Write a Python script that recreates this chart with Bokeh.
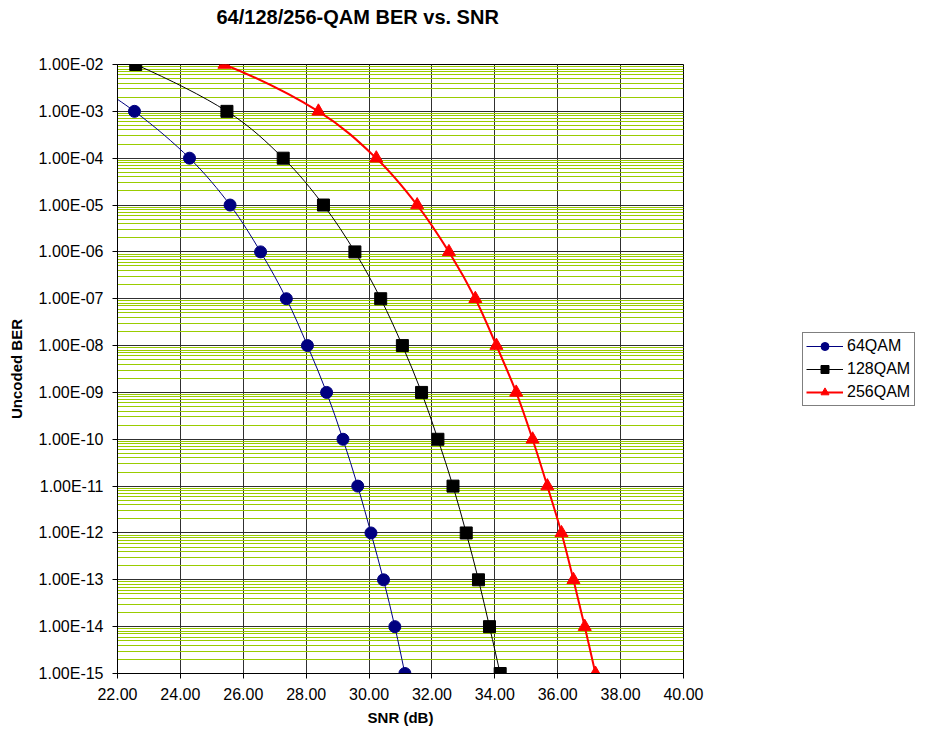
import numpy as np
from bokeh.plotting import figure
from bokeh.models import (ColumnDataSource, FixedTicker, SingleIntervalTicker, NumeralTickFormatter,
                          CustomJSTickFormatter, Legend, LegendItem, Range1d, Title, LinearAxis)
from bokeh.embed import file_html
from bokeh.resources import INLINE

# ---- data ----
snr_64 = [20.30, 22.54, 24.29, 25.58, 26.55, 27.37, 28.04, 28.65, 29.17, 29.64, 30.06, 30.46, 30.82, 31.14]
ber_64 = [1e-2, 1e-3, 1e-4, 1e-5, 1e-6, 1e-7, 1e-8, 1e-9, 1e-10, 1e-11, 1e-12, 1e-13, 1e-14, 1e-15]

snr_128 = [18.80, 22.58, 25.48, 27.27, 28.55, 29.55, 30.37, 31.06, 31.67, 32.19, 32.67, 33.09, 33.48, 33.83, 34.17]
ber_128 = [1e-1, 1e-2, 1e-3, 1e-4, 1e-5, 1e-6, 1e-7, 1e-8, 1e-9, 1e-10, 1e-11, 1e-12, 1e-13, 1e-14, 1e-15]

snr_256 = [21.00, 25.40, 28.39, 30.23, 31.53, 32.54, 33.38, 34.05, 34.68, 35.20, 35.67, 36.12, 36.50, 36.86, 37.20]
ber_256 = [1e-1, 1e-2, 1e-3, 1e-4, 1e-5, 1e-6, 1e-7, 1e-8, 1e-9, 1e-10, 1e-11, 1e-12, 1e-13, 1e-14, 1e-15]

series_names = ["64QAM", "128QAM", "256QAM"]
chart_title = "64/128/256-QAM BER vs. SNR"
x_label = "SNR (dB)"
y_label = "Uncoded BER"

x_start, x_end, x_step = 22.0, 40.0, 2.0
y_min_exp, y_max_exp = -15, -2

FONT = "Liberation Sans"


def smooth_segments(xs, ys):
    """Cubic Bezier control points (Catmull-Rom style) in x / log10(y) space."""
    lx = np.asarray(xs, float)
    ly = np.log10(np.asarray(ys, float))
    n = len(lx)
    prev = np.r_[0, np.arange(n - 1)]
    nxt = np.r_[np.arange(1, n), n - 1]
    dx = (lx[nxt] - lx[prev]) / 6.0
    dy = (ly[nxt] - ly[prev]) / 6.0
    return dict(
        x0=lx[:-1], y0=10 ** ly[:-1], x1=lx[1:], y1=10 ** ly[1:],
        cx0=lx[:-1] + dx[:-1], cy0=10 ** (ly[:-1] + dy[:-1]),
        cx1=lx[1:] - dx[1:], cy1=10 ** (ly[1:] - dy[1:]),
    )


p = figure(
    frame_width=566, frame_height=609,
    min_border_left=117, min_border_right=231, min_border_top=64, min_border_bottom=56,
    x_range=Range1d(x_start, x_end),
    y_range=Range1d(10.0 ** y_min_exp, 10.0 ** y_max_exp),
    y_axis_type="log",
    output_backend="svg", toolbar_location=None,
    background_fill_color="white", border_fill_color="white",
)
p.outline_line_color = "black"
p.outline_line_width = 1

xax = p.below[0]
yax = p.left[0]

# blank spacer between the title and the plot area (one invisible tick, no labels drawn)
spacer = LinearAxis(ticker=FixedTicker(ticks=[(x_start + x_end) / 2]), major_tick_out=35, major_tick_in=0,
                    major_tick_line_alpha=0, minor_tick_line_color=None, axis_line_color=None,
                    major_label_text_color=None, major_label_text_font_size="0px",
                    major_label_standoff=0, axis_label_standoff=0)
p.add_layout(spacer, "above")

p.title = Title(text=chart_title, align="left", offset=99, standoff=4,
                text_font=FONT, text_font_size="20px", text_font_style="bold", text_color="black")

# ---- axes ----
x_ticker = SingleIntervalTicker(interval=x_step, num_minor_ticks=0)
xax.ticker = x_ticker
xax.formatter = NumeralTickFormatter(format="0.00")
major = [10.0 ** e for e in range(y_min_exp, y_max_exp + 1)]
minor = [k * 10.0 ** e for e in range(y_min_exp, y_max_exp) for k in range(2, 10)]
y_ticker = FixedTicker(ticks=major, minor_ticks=minor)
yax.ticker = y_ticker
yax.formatter = CustomJSTickFormatter(code="""
    const e = Math.round(Math.log10(tick));
    const m = tick / Math.pow(10, e);
    const a = Math.abs(e);
    return m.toFixed(2) + 'E' + (e < 0 ? '-' : '+') + (a < 10 ? '0' : '') + a;
""")

for ax in (xax, yax):
    ax.axis_line_color = "black"
    ax.axis_line_width = 1
    ax.major_tick_line_color = "black"
    ax.major_tick_out = 5
    ax.major_tick_in = 0
    ax.minor_tick_line_color = None
    ax.major_label_text_font = FONT
    ax.major_label_text_font_size = "16px"
    ax.major_label_text_color = "black"
    ax.axis_label_text_font = FONT
    ax.axis_label_text_font_size = "15px"
    ax.axis_label_text_font_style = "bold"
    ax.axis_label_text_color = "black"

xax.axis_label = x_label
xax.major_label_standoff = 9
xax.axis_label_standoff = 6
yax.axis_label = y_label
yax.major_label_standoff = 9
yax.axis_label_standoff = 11

# ---- grids ----
p.xgrid.ticker = x_ticker
p.xgrid.grid_line_color = "#303030"
p.xgrid.grid_line_width = 1
p.ygrid.ticker = y_ticker
p.ygrid.grid_line_color = "#303030"
p.ygrid.grid_line_width = 1
p.ygrid.minor_grid_line_color = "#99CC00"
p.ygrid.minor_grid_line_width = 1

# ---- series ----
styles = [
    dict(xs=snr_64, ys=ber_64, color="#000080", lw=1, marker="circle", size=12),
    dict(xs=snr_128, ys=ber_128, color="#000000", lw=1, marker="square", size=12),
    dict(xs=snr_256, ys=ber_256, color="#FF0000", lw=2, marker="triangle", size=13),
]

items = []
for name, st in zip(series_names, styles):
    seg = ColumnDataSource(smooth_segments(st["xs"], st["ys"]))
    bz = p.bezier(x0="x0", y0="y0", x1="x1", y1="y1", cx0="cx0", cy0="cy0", cx1="cx1", cy1="cy1",
                  source=seg, line_color=st["color"], line_width=st["lw"])
    pts = ColumnDataSource(dict(x=st["xs"], y=st["ys"]))
    sc = p.scatter("x", "y", source=pts, marker=st["marker"], size=st["size"],
                   fill_color=st["color"], line_color=st["color"])
    items.append(LegendItem(label=name, renderers=[bz, sc]))

legend = Legend(
    items=items, location=(119, 267),
    border_line_color="black", border_line_width=1,
    background_fill_color="white", background_fill_alpha=1,
    label_text_font=FONT, label_text_font_size="16px", label_text_color="black",
    glyph_width=37, glyph_height=20, label_height=20, label_width=64,
    label_standoff=4, spacing=3, padding=3, margin=0,
)
p.add_layout(legend, "right")

open("out.html", "w").write(file_html(p, INLINE))
